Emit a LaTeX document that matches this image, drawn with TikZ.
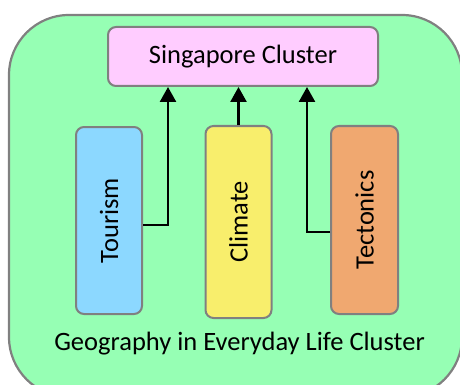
\documentclass[tikz,border=0pt]{standalone}
\usepackage{fontspec}
\setmainfont{Carlito}
\usetikzlibrary{arrows.meta}
\definecolor{bggreen}{RGB}{150,255,180}
\definecolor{sgpink}{RGB}{255,204,255}
\definecolor{tblue}{RGB}{140,216,255}
\definecolor{cyellow}{RGB}{248,238,108}
\definecolor{torange}{RGB}{240,168,112}
\definecolor{edgegray}{RGB}{128,128,128}
\tikzset{
  lbl/.style={font=\fontsize{26.5}{30}\selectfont},
  box/.style={draw=edgegray, line width=2pt, rounded corners=8pt, inner sep=0pt, lbl},
  vbox/.style={box, rotate=90},
  arr/.style={line width=2.5pt, -{Triangle[width=16pt,length=15pt]}}
}
\begin{document}
\begin{tikzpicture}[x=1pt,y=-1pt]
\useasboundingbox (0,0) rectangle (460,385);
\clip (0,0) rectangle (460,385);
\fill[white] (0,0) rectangle (460,385);
\draw[draw=edgegray, line width=2.2pt, fill=bggreen, rounded corners=60pt] (9,15) rectangle (462,397);
\node[box, fill=sgpink, minimum width=270pt, minimum height=59pt] (sg) at (243,56.5) {Singapore Cluster};
\node[vbox, fill=tblue, minimum width=187pt, minimum height=66pt] (tour) at (109,220.5) {Tourism};
\node[vbox, fill=cyellow, minimum width=192pt, minimum height=66pt] (clim) at (238.5,222) {Climate};
\node[vbox, fill=torange, minimum width=188pt, minimum height=67pt] (tect) at (364.5,220) {Tectonics};
\node[lbl] (geo) at (239.5,344) {Geography in Everyday Life Cluster};
\draw[arr] ([yshift=-4.5pt]tour.south) -| ([xshift=-75pt]sg.south);
\draw[arr] (clim.east) -- (clim.east |- sg.south);
\draw[arr] ([yshift=-12pt]tect.north) -| ([xshift=64pt]sg.south);
\end{tikzpicture}
\end{document}
